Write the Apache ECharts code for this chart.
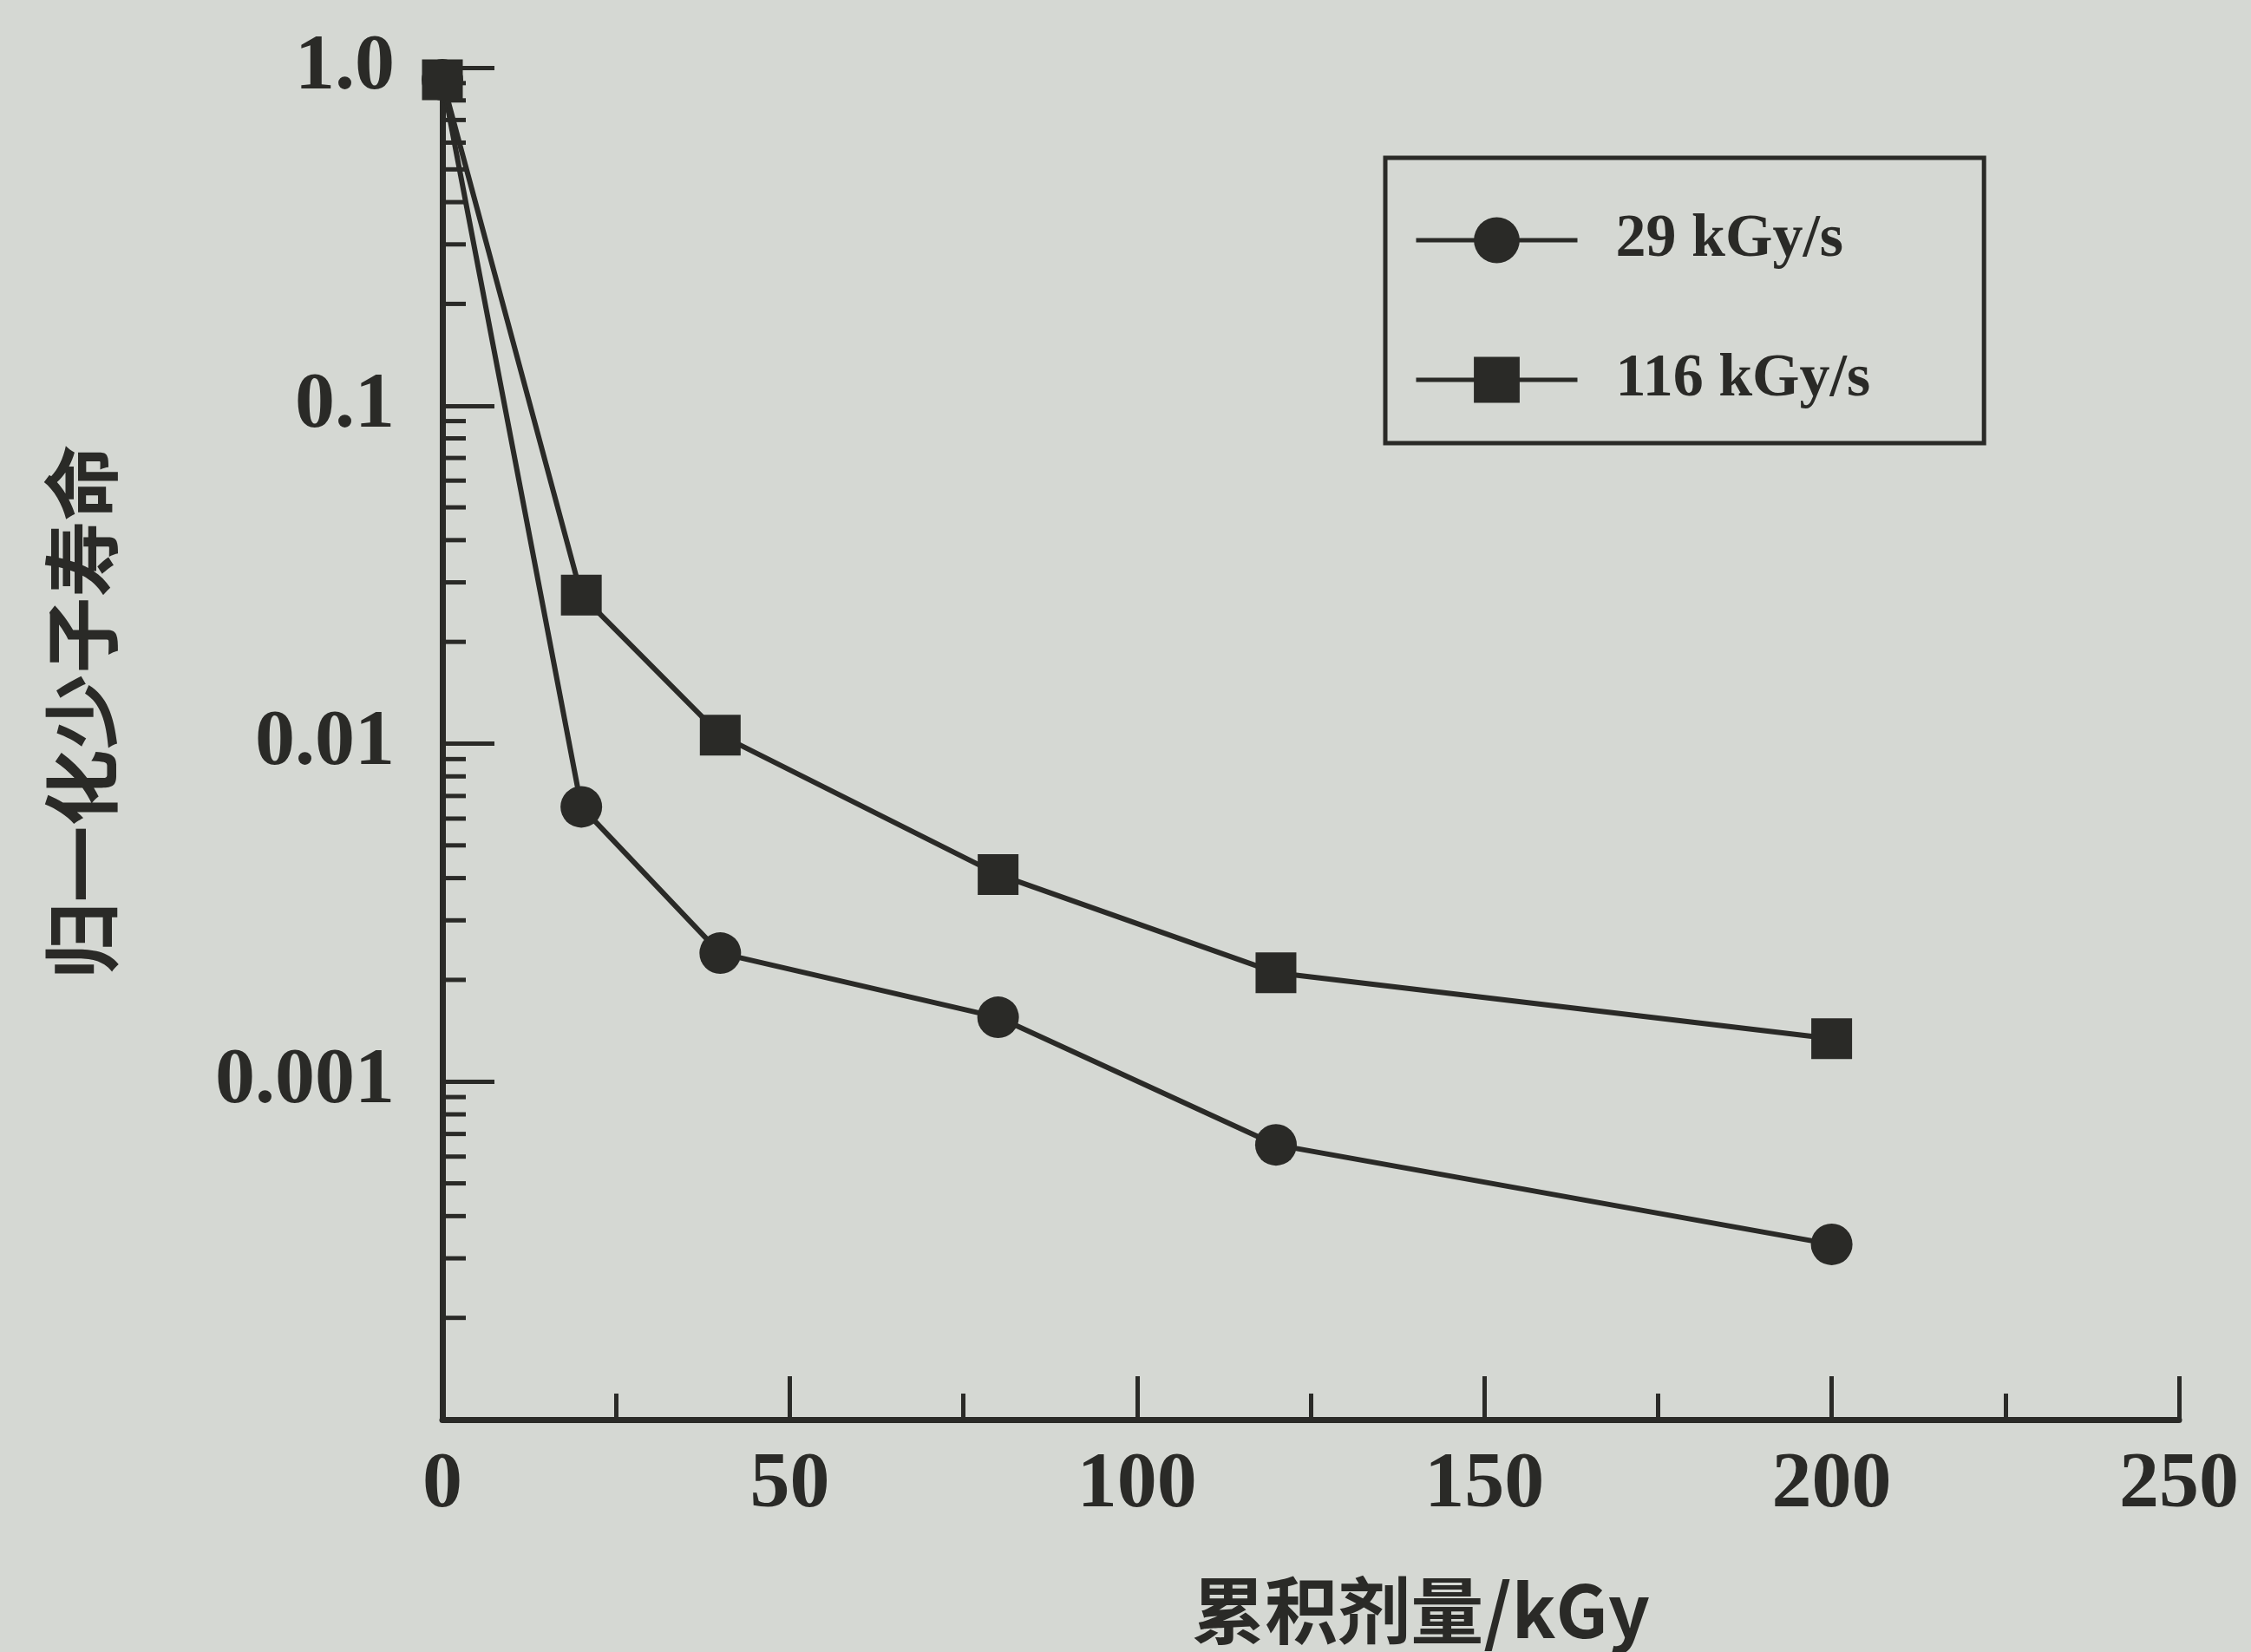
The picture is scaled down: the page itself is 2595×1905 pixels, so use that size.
<!DOCTYPE html>
<html>
<head>
<meta charset="utf-8">
<title>归一化少子寿命</title>
<script src="https://cdn.jsdelivr.net/npm/echarts@6/dist/echarts.min.js"></script>
<style>
  html, body { margin: 0; padding: 0; background: #d5d8d3; }
  #main { width: 2595px; height: 1905px; }
</style>
</head>
<body>
<div id="main"></div>
<script>
// 数据
var doses = [0, 20, 40, 80, 120, 200];
var life29 = [0.92, 0.0065, 0.0024, 0.00155, 0.00065, 0.00033];
var life116 = [0.92, 0.0275, 0.0106, 0.0041, 0.0021, 0.00134];
var seriesNames = ['29 kGy/s', '116 kGy/s'];
var xTicks = [0, 50, 100, 150, 200, 250];
var yLabels = ['0.001', '0.01', '0.1', '1.0'];
var decades = [0.0001, 0.001, 0.01, 0.1];
var minorFactors = [2, 3, 4, 5, 6, 7, 8, 9];

var ink = '#2a2a27';
var serif = '"Liberation Serif", "DejaVu Serif", serif';
var cjk = '"Noto Sans CJK SC", sans-serif';

function pairs(xs, ys) {
  var out = [];
  for (var i = 0; i < xs.length; i++) out.push([xs[i], ys[i]]);
  return out;
}

// 对数轴的次刻度
var minorTicks = [];
decades.forEach(function (d) {
  minorFactors.forEach(function (f) {
    minorTicks.push([0, Number((d * f).toPrecision(2))]);
  });
});

var chart = echarts.init(document.getElementById('main'), null, { renderer: 'canvas' });

chart.setOption({
  backgroundColor: '#d5d8d3',
  animation: false,
  grid: {
    left: 510, right: 83, top: 78, bottom: 268,
    containLabel: false,
    outerBoundsMode: 'none'
  },
  legend: {
    data: seriesNames,
    orient: 'vertical',
    left: 1597, top: 182,
    padding: [60, 131, 38, 33],
    itemWidth: 186,
    itemHeight: 66,
    itemGap: 91,
    borderColor: ink,
    borderWidth: 5,
    borderRadius: 0,
    lineStyle: { color: ink, width: 5 },
    textStyle: {
      fontFamily: serif, fontSize: 70, fontWeight: 'bold', color: ink,
      padding: [0, 0, 0, 39]
    }
  },
  xAxis: {
    type: 'value',
    min: xTicks[0], max: xTicks[xTicks.length - 1], interval: 50,
    name: '累积剂量/kGy',
    nameLocation: 'middle',
    nameGap: 178,
    nameTextStyle: {
      fontFamily: cjk, fontSize: 84, fontWeight: 'bold', color: ink,
      padding: [0, 0, 0, 254]
    },
    axisLine: { lineStyle: { color: ink, width: 7 } },
    axisTick: { inside: true, length: 50, lineStyle: { color: ink, width: 5 } },
    minorTick: { show: true, splitNumber: 2, length: 30, lineStyle: { color: ink, width: 5 } },
    splitLine: { show: false },
    axisLabel: {
      margin: 30,
      fontFamily: serif, fontSize: 92, fontWeight: 'bold', color: ink,
      formatter: function (v) { return xTicks.indexOf(v) >= 0 ? String(v) : ''; }
    }
  },
  yAxis: {
    type: 'log',
    logBase: 10,
    min: 0.0001, max: 1,
    name: '归一化少子寿命',
    nameLocation: 'middle',
    nameGap: 372,
    nameTextStyle: {
      fontFamily: cjk, fontSize: 88, fontWeight: 'bold', color: ink,
      padding: [0, 0, 0, 74]
    },
    axisLine: { lineStyle: { color: ink, width: 7 } },
    axisTick: { inside: true, length: 60, lineStyle: { color: ink, width: 5 } },
    splitLine: { show: false },
    axisLabel: {
      margin: 55,
      fontFamily: serif, fontSize: 92, fontWeight: 'bold', color: ink,
      formatter: function (v) {
        var s = v >= 1 ? '1.0' : String(Number(v.toPrecision(1)));
        return yLabels.indexOf(s) >= 0 ? s : '';
      }
    }
  },
  series: [
    {
      type: 'custom',
      silent: true,
      z: 1,
      data: minorTicks,
      renderItem: function (params, api) {
        var p = api.coord([api.value(0), api.value(1)]);
        return {
          type: 'line',
          shape: { x1: p[0], y1: p[1], x2: p[0] + 27, y2: p[1] },
          style: { stroke: ink, lineWidth: 5 }
        };
      }
    },
    {
      name: seriesNames[0],
      type: 'line',
      data: pairs(doses, life29),
      symbol: 'circle',
      symbolSize: 48,
      clip: false,
      lineStyle: { color: ink, width: 6 },
      itemStyle: { color: ink },
      z: 3
    },
    {
      name: seriesNames[1],
      type: 'line',
      data: pairs(doses, life116),
      symbol: 'rect',
      symbolSize: 47,
      clip: false,
      lineStyle: { color: ink, width: 6 },
      itemStyle: { color: ink },
      z: 4
    }
  ]
});
</script>
</body>
</html>
